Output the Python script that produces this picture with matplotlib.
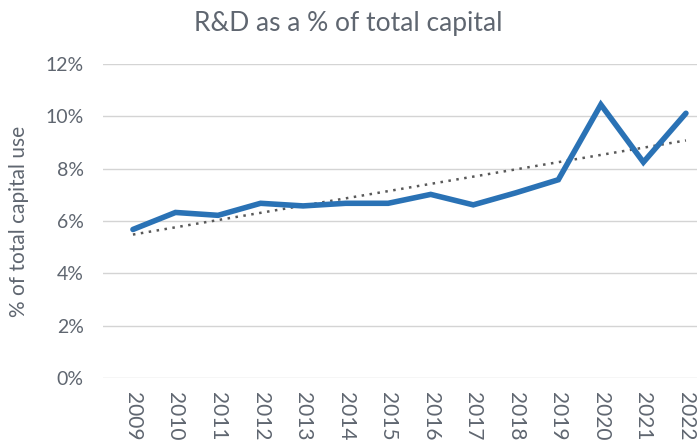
import numpy as np
import matplotlib.pyplot as plt

plt.rcParams['font.family'] = ['Lato', 'DejaVu Sans']

# R&D share of total capital use
years = [2009, 2010, 2011, 2012, 2013, 2014, 2015,
         2016, 2017, 2018, 2019, 2020, 2021, 2022]
rd_share = [5.68, 6.33, 6.22, 6.68, 6.58, 6.68, 6.68,
            7.02, 6.62, 7.08, 7.58, 10.45, 8.25, 10.12]
y_ticks = [0, 2, 4, 6, 8, 10, 12]

text_col = '#5f6670'

fig = plt.figure(figsize=(6.97, 4.48), dpi=100)
ax = fig.add_axes([0.148, 0.156, 0.852, 0.701])

# linear trendline like the spreadsheet one
coef = np.polyfit(years, rd_share, 1)
trend = np.polyval(coef, years)
ax.plot(years, trend, linestyle=(0, (1, 2.2)), color='#595959', linewidth=1.8)

ax.plot(years, rd_share, color='#2a72b5', linewidth=4, solid_joinstyle='miter',
        solid_capstyle='round', zorder=3)

ax.set_ylim(0, 12)
ax.set_xlim(2008.3, 2022.26)
ax.set_yticks(y_ticks)
ax.set_yticklabels([f'{v}%' for v in y_ticks])
ax.set_xticks(years)
ax.set_xticklabels([str(y) for y in years], rotation=-90)
ax.grid(axis='y', color='#d4d4d4', linewidth=1)
ax.set_axisbelow(True)
for s in ax.spines.values():
    s.set_visible(False)
ax.tick_params(axis='both', length=0, labelcolor=text_col)
ax.tick_params(axis='y', pad=14, labelsize=14)
ax.tick_params(axis='x', pad=10, labelsize=15)

ax.set_ylabel('% of total capital use', fontsize=15, color=text_col, labelpad=12)
fig.suptitle('R&D as a % of total capital', fontsize=19, color=text_col, y=0.975)

fig.savefig('out.png', dpi=100)
